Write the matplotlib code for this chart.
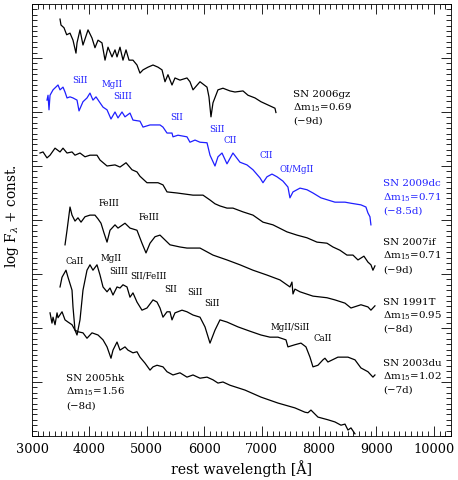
import numpy as np
import matplotlib
matplotlib.use('Agg')
import matplotlib.pyplot as plt
from matplotlib.ticker import MultipleLocator

plt.rcParams['font.family'] = 'DejaVu Serif'
plt.rcParams['mathtext.fontset'] = 'dejavuserif'

BLUE = '#1f1fff'

# spectra: rest wavelength [A] and log F + offset (major tick = 1 unit)
wave_2006gz = [3488, 3505, 3557, 3604, 3662, 3714, 3766, 3784, 3836, 3888, 3976, 4045, 4097,
               4150, 4219, 4272, 4324, 4394, 4446, 4481, 4533, 4585, 4638, 4690, 4759, 4829,
               4881, 4934, 5021, 5108, 5195, 5265, 5317, 5369, 5439, 5491, 5578, 5700, 5752,
               5805, 5927, 6049, 6083, 6118, 6153, 6240, 6327, 6449, 6536, 6676, 6763, 6885,
               6989, 7111, 7233, 7250]
flux_2006gz = [7.72, 7.61, 7.56, 7.43, 7.46, 7.33, 7.09, 7.28, 7.52, 7.24, 7.52, 7.37, 7.19,
               7.33, 7.28, 6.96, 7.20, 7.02, 7.15, 7.02, 7.20, 6.96, 7.15, 6.96, 6.96, 6.87,
               6.72, 6.78, 6.83, 6.87, 6.83, 6.78, 6.56, 6.69, 6.50, 6.63, 6.59, 6.63, 6.56,
               6.41, 6.56, 6.46, 6.28, 5.91, 6.17, 6.41, 6.44, 6.39, 6.37, 6.39, 6.31, 6.26,
               6.19, 6.13, 6.07, 5.99]

wave_2009dc = [3261, 3279, 3296, 3314, 3366, 3453, 3488, 3540, 3575, 3610, 3662, 3714, 3784,
               3819, 3888, 3958, 4010, 4062, 4115, 4185, 4237, 4307, 4376, 4446, 4498, 4568,
               4620, 4707, 4759, 4881, 4934, 5056, 5230, 5282, 5352, 5439, 5456, 5543, 5700,
               5752, 5840, 5927, 6049, 6101, 6188, 6240, 6310, 6397, 6501, 6623, 6745, 6850,
               6972, 7024, 7094, 7181, 7268, 7372, 7459, 7494, 7547, 7669, 7791, 7895, 8034,
               8156, 8278, 8453, 8557, 8731, 8818, 8853, 8888, 8905]
flux_2009dc = [6.22, 6.31, 6.04, 6.31, 6.41, 6.50, 6.41, 6.46, 6.37, 6.26, 6.28, 6.26, 6.22,
               6.02, 6.19, 6.26, 6.35, 6.22, 6.28, 6.17, 6.09, 6.04, 5.87, 6.00, 5.89, 6.00,
               5.91, 5.98, 5.85, 5.83, 5.72, 5.76, 5.76, 5.72, 5.61, 5.61, 5.54, 5.57, 5.54,
               5.44, 5.48, 5.44, 5.43, 5.20, 5.00, 5.17, 5.24, 5.04, 5.24, 5.07, 5.02, 4.93,
               4.78, 4.69, 4.80, 4.85, 4.80, 4.72, 4.61, 4.41, 4.52, 4.59, 4.56, 4.50, 4.41,
               4.37, 4.33, 4.33, 4.31, 4.28, 4.24, 4.13, 4.06, 3.91]

wave_2007if = [3139, 3192, 3261, 3314, 3401, 3488, 3540, 3610, 3697, 3749, 3836, 3923, 4010,
               4132, 4185, 4307, 4446, 4533, 4638, 4742, 4829, 4881, 5003, 5108, 5195, 5282,
               5352, 5526, 5805, 5979, 6101, 6188, 6275, 6397, 6501, 6676, 6850, 7024, 7198,
               7442, 7616, 7791, 7965, 8139, 8243, 8365, 8487, 8592, 8679, 8783, 8853, 8905,
               8940, 8975]
flux_2007if = [5.24, 5.26, 5.15, 5.20, 5.33, 5.26, 5.33, 5.24, 5.26, 5.20, 5.24, 5.17, 5.20,
               5.20, 5.11, 5.00, 5.02, 4.98, 5.06, 4.93, 4.89, 4.81, 4.69, 4.69, 4.69, 4.65,
               4.52, 4.50, 4.46, 4.46, 4.37, 4.30, 4.26, 4.22, 4.22, 4.15, 4.09, 3.96, 3.91,
               3.78, 3.72, 3.67, 3.59, 3.57, 3.50, 3.44, 3.35, 3.35, 3.26, 3.33, 3.22, 3.17,
               3.07, 3.15]

wave_1991T = [3575, 3610, 3662, 3697, 3749, 3801, 3854, 3923, 4010, 4097, 4150, 4202, 4254,
              4307, 4359, 4446, 4498, 4620, 4707, 4829, 4916, 4986, 5056, 5143, 5230, 5317,
              5404, 5578, 5700, 5927, 6049, 6153, 6397, 6623, 6850, 7094, 7320, 7494, 7529,
              7547, 7581, 7669, 7895, 8139, 8278, 8453, 8557, 8731, 8853, 8905, 8975]
flux_1991T = [3.54, 3.81, 4.24, 4.09, 3.98, 4.04, 3.96, 4.06, 4.09, 4.09, 4.02, 3.94, 3.76,
              3.59, 3.81, 3.91, 3.85, 3.94, 3.85, 3.81, 3.57, 3.39, 3.57, 3.69, 3.72, 3.63,
              3.54, 3.50, 3.48, 3.48, 3.41, 3.35, 3.26, 3.17, 3.07, 2.98, 2.89, 2.76, 2.85,
              2.63, 2.72, 2.67, 2.59, 2.56, 2.52, 2.46, 2.37, 2.43, 2.39, 2.33, 2.41]

wave_2003du = [3488, 3523, 3592, 3627, 3697, 3714, 3749, 3784, 3836, 3888, 3958, 4010, 4062,
               4132, 4185, 4237, 4307, 4359, 4411, 4481, 4533, 4585, 4655, 4707, 4759, 4829,
               4916, 5003, 5108, 5178, 5230, 5282, 5352, 5404, 5439, 5491, 5613, 5700, 5805,
               5927, 6014, 6101, 6188, 6275, 6397, 6589, 6798, 6989, 7146, 7285, 7425, 7459,
               7581, 7686, 7773, 7843, 7895, 7982, 8069, 8104, 8156, 8330, 8505, 8627, 8731,
               8853, 8940, 8975]
flux_2003du = [2.76, 2.94, 3.07, 2.94, 2.70, 2.39, 1.96, 1.87, 2.15, 2.70, 3.07, 3.17, 3.07,
               3.17, 2.98, 2.76, 2.67, 2.74, 2.61, 2.76, 2.74, 2.80, 2.76, 2.57, 2.65, 2.48,
               2.33, 2.37, 2.52, 2.48, 2.37, 2.20, 2.30, 2.30, 2.15, 2.28, 2.33, 2.30, 2.24,
               2.20, 2.02, 1.72, 1.96, 2.15, 2.11, 2.02, 1.94, 1.87, 1.83, 1.83, 1.78, 1.65,
               1.69, 1.72, 1.65, 1.46, 1.28, 1.31, 1.41, 1.44, 1.37, 1.46, 1.46, 1.41, 1.26,
               1.19, 1.09, 1.13]

wave_2005hk = [3314, 3348, 3366, 3401, 3436, 3453, 3523, 3575, 3627, 3697, 3749, 3801, 3888,
               3958, 4045, 4150, 4237, 4307, 4376, 4411, 4481, 4533, 4620, 4672, 4759, 4829,
               4881, 4968, 5056, 5108, 5178, 5282, 5352, 5456, 5578, 5700, 5805, 5927, 6049,
               6153, 6240, 6327, 6449, 6711, 6989, 7285, 7581, 7756, 7808, 7860, 7982, 8156,
               8278, 8383, 8453, 8505, 8557, 8627]
flux_2005hk = [2.28, 2.09, 2.20, 2.06, 2.28, 2.19, 2.30, 2.15, 2.11, 2.06, 1.96, 1.93, 1.91,
               1.81, 1.91, 1.87, 1.78, 1.65, 1.44, 1.59, 1.74, 1.59, 1.65, 1.59, 1.54, 1.56,
               1.46, 1.35, 1.22, 1.28, 1.31, 1.28, 1.19, 1.13, 1.17, 1.09, 1.13, 1.07, 1.09,
               1.04, 0.98, 1.00, 0.94, 0.85, 0.72, 0.61, 0.52, 0.44, 0.43, 0.48, 0.35, 0.30,
               0.26, 0.20, 0.22, 0.11, 0.15, 0.04]

# line identifications: (label, wavelength, y)
ids_2009dc = [('SiII', 3697, 6.59), ('MgII', 4219, 6.50), ('SiIII', 4411, 6.28),
              ('SII', 5404, 5.89), ('SiII', 6083, 5.67), ('CII', 6345, 5.48),
              ('CII', 6972, 5.19), ('OI/MgII', 7320, 4.93)]
ids_1991T = [('FeIII', 4167, 4.31), ('FeIII', 4864, 4.04)]
ids_2003du = [('CaII', 3592, 3.24), ('MgII', 4202, 3.28), ('SiIII', 4341, 3.04),
              ('SII/FeIII', 4707, 2.96), ('SII', 5299, 2.72), ('SiII', 5700, 2.65),
              ('SiII', 5996, 2.46), ('MgII/SiII', 7163, 2.00), ('CaII', 7912, 1.80)]

# object labels: name, dm15, phase, x, y of first line, colour
sn_names = ['SN 2006gz', 'SN 2009dc', 'SN 2007if', 'SN 1991T', 'SN 2003du', 'SN 2005hk']
sn_dm15 = ['0.69', '0.71', '0.71', '0.95', '1.02', '1.56']
sn_phase = ['\u22129d', '\u22128.5d', '\u22129d', '\u22128d', '\u22127d', '\u22128d']
label_x = [7547, 9114, 9114, 9114, 9114, 3592]
label_y = [6.33, 4.67, 3.58, 2.48, 1.35, 1.06]
label_col = ['black', BLUE, 'black', 'black', 'black', 'black']

fig = plt.figure(figsize=(4.58, 4.80), dpi=100)
ax = fig.add_axes([0.0699, 0.0917, 0.9148, 0.9])

spectra = [(wave_2006gz, flux_2006gz, 'black'), (wave_2009dc, flux_2009dc, BLUE),
           (wave_2007if, flux_2007if, 'black'), (wave_1991T, flux_1991T, 'black'),
           (wave_2003du, flux_2003du, 'black'), (wave_2005hk, flux_2005hk, 'black')]
for w, f, c in spectra:
    ax.plot(w, f, color=c, lw=0.9)

for ids, c in [(ids_2009dc, BLUE), (ids_1991T, 'black'), (ids_2003du, 'black')]:
    for lab, w, y in ids:
        ax.text(w, y, lab, color=c, fontsize=6.2, ha='left', va='center')

dy = 0.25
for i in range(len(sn_names)):
    x, y, c = label_x[i], label_y[i], label_col[i]
    ax.text(x, y, sn_names[i], color=c, fontsize=7.4, va='center')
    ax.text(x, y - dy, r'$\Delta$m$_{15}$=' + sn_dm15[i], color=c, fontsize=7.4, va='center')
    ax.text(x, y - 2 * dy, '(' + sn_phase[i] + ')', color=c, fontsize=7.4, va='center')

ax.set_xlim(3000, 10300)
ax.set_ylim(0, 8)
ax.xaxis.set_major_locator(MultipleLocator(1000))
ax.xaxis.set_minor_locator(MultipleLocator(100))
ax.yaxis.set_major_locator(MultipleLocator(1))
ax.yaxis.set_minor_locator(MultipleLocator(0.1))
ax.tick_params(which='both', direction='in', top=True, right=True, width=0.6)
ax.tick_params(which='major', length=7)
ax.tick_params(which='minor', length=3.5)
ax.tick_params(axis='x', labelsize=9.3, pad=5)
ax.set_yticklabels([])
for s in ax.spines.values():
    s.set_linewidth(0.6)

ax.set_xlabel('rest wavelength [\u00c5]', fontsize=10.2, labelpad=3)
fig.text(12 / 458, 0.55, r'log F$_\lambda$ + const.', fontsize=9.8,
         rotation=90, ha='center', va='center')

fig.savefig('out.png', dpi=100)
